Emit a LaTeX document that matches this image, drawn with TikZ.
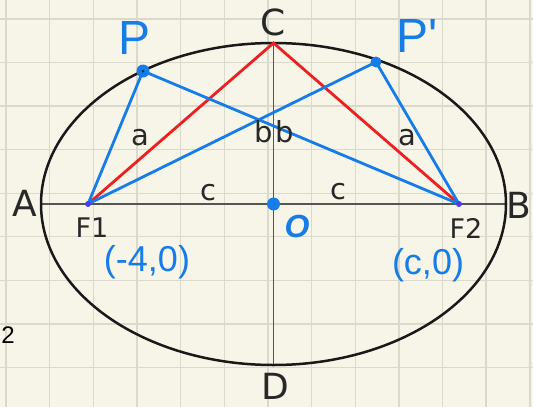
\documentclass[tikz,border=0pt]{standalone}
\usepackage{fontspec}
\setmainfont{DejaVu Sans}
\newfontfamily\handfont{Liberation Sans}
\definecolor{bgcol}{RGB}{247,245,232}
\definecolor{gridcol}{RGB}{219,217,203}
\definecolor{penblue}{RGB}{22,124,232}
\definecolor{labgray}{RGB}{40,40,40}
\definecolor{axisgray}{RGB}{85,85,85}
\definecolor{redline}{RGB}{236,32,32}
\definecolor{focuscol}{RGB}{80,60,230}
\tikzset{
  gridline/.style={gridcol, line width=1.4pt},
  axisline/.style={axisgray, line width=1.2pt},
  redseg/.style={redline, line width=2.8pt, line cap=round},
  penline/.style={penblue, line width=2.8pt, line cap=round, line join=round},
  bigletter/.style={text=labgray, font=\fontsize{36}{38}\selectfont, inner sep=0pt},
  seglabel/.style={text=labgray, font=\fontsize{29}{32}\selectfont, inner sep=0pt},
  focuslabel/.style={text=labgray, font=\fontsize{27}{30}\selectfont, inner sep=0pt},
  handlabel/.style={text=penblue, font=\handfont\fontsize{48}{50}\selectfont, inner sep=0pt},
  handsmall/.style={text=penblue, font=\handfont\fontsize{36}{38}\selectfont, inner sep=0pt},
}
\begin{document}
\begin{tikzpicture}[x=1pt,y=-1pt]
\fill[bgcol] (0,0) rectangle (533,407);
\useasboundingbox (0,0) rectangle (533,407);
\foreach \i in {0,...,12} \draw[gridline] ({6+43.65*\i},0) -- ++(0,407);
\foreach \j in {0,...,8} \draw[gridline] (0,{19+43.55*\j}) -- ++(533,0);

\coordinate (O) at (273.5,204);
\coordinate (F1) at (88,204);
\coordinate (F2) at (459,204);
\coordinate (C) at (273.5,43);
\coordinate (D) at (273.5,365);
\coordinate (A) at (41,204);
\coordinate (B) at (506,204);
\coordinate (P) at (143,71);
\coordinate (Pp) at (376,62);

\draw[axisline] (A) -- (B);
\draw[axisline] (C) -- (D);
\draw[black!90, line width=2.5pt] (O) ellipse [x radius=232.5pt, y radius=161pt];

\draw[redseg] (F1) -- (C) -- (F2);

\draw[penline] (F1) -- (P) -- (F2);
\draw[penline] (F1) -- (Pp) -- (F2);
\fill[focuscol] (F1) circle (3pt);
\fill[focuscol] (F2) circle (3pt);
\fill[penblue] (P) circle (6.5pt);
\fill[black!60!penblue] (P) circle (1.5pt);
\fill[penblue] (Pp) circle (5.5pt);
\fill[penblue] (O) circle (6.5pt);

\node[bigletter] (lA) at (25,203) {A};
\node[bigletter] (lB) at (519,205) {B};
\node[bigletter] (lC) at (273,22) {C};
\node[bigletter] (lD) at (275,386) {D};

\node[seglabel] (la1) at (140,138) {a};
\node[seglabel] (la2) at (407,138) {a};
\node[seglabel] (lb1) at (264,132) {b};
\node[seglabel] (lb2) at (285,132) {b};
\node[seglabel] (lc1) at (208,193) {c};
\node[seglabel] (lc2) at (338,192) {c};
\node[focuslabel] (lF1) at (92,228) {F1};
\node[focuslabel] (lF2) at (466,228) {F2};

\node[handlabel] (lP) at (135,38) {P};
\node[handlabel] (lPp) at (417,36) {P'};
\node[text=penblue, inner sep=0pt, font=\handfont\itshape\bfseries\fontsize{32}{34}\selectfont] (lO) at (297,226) {O};
\node[handsmall] (lm) at (147,262) {(-4,0)};
\node[handsmall] (lp) at (428,265) {(c,0)};
\node[text=black, font=\handfont\fontsize{24}{26}\selectfont, inner sep=0pt] (l2) at (8,335) {2};
\end{tikzpicture}
\end{document}
